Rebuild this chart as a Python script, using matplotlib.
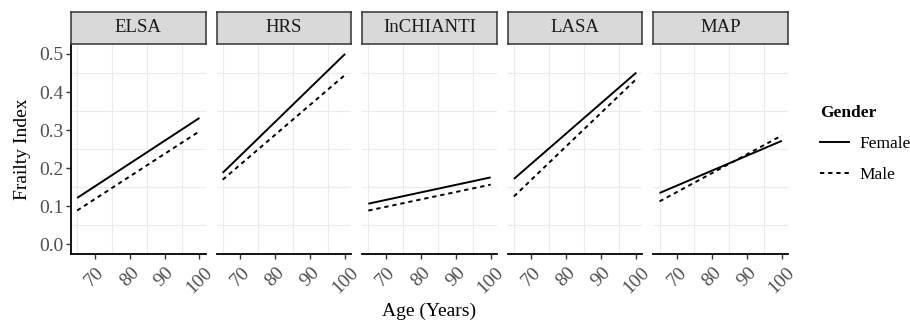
import matplotlib
matplotlib.use("Agg")
import matplotlib.pyplot as plt
from matplotlib.lines import Line2D
from matplotlib.ticker import FormatStrFormatter

plt.rcParams['font.family'] = ['Liberation Serif', 'DejaVu Serif']

cohorts = ['ELSA', 'HRS', 'InCHIANTI', 'LASA', 'MAP']
ages = [65, 100]
female_start = [0.122, 0.188, 0.107, 0.172, 0.135]
female_end = [0.332, 0.500, 0.176, 0.451, 0.272]
male_start = [0.089, 0.170, 0.089, 0.126, 0.113]
male_end = [0.297, 0.445, 0.157, 0.434, 0.286]
x_ticks = [70, 80, 90, 100]
y_ticks = [0.0, 0.1, 0.2, 0.3, 0.4, 0.5]

W, H = 910, 327
fig = plt.figure(figsize=(W / 100, H / 100), dpi=100)

left0 = 71
pw = 134.6
gap = 11
ptop = 44
pbot = 254
strip_top = 12

grid_c = '#EBEBEB'
tick_c = '#4D4D4D'

for i, name in enumerate(cohorts):
    x0 = left0 + i * (pw + gap)
    ax = fig.add_axes([x0 / W, 1 - pbot / H, pw / W, (pbot - ptop) / H])
    ax.set_xlim(63.25, 101.75)
    ax.set_ylim(-0.025, 0.526)
    ax.plot(ages, [female_start[i], female_end[i]], color='black', lw=1.4,
            solid_capstyle='butt')
    ax.plot(ages, [male_start[i], male_end[i]], color='black', lw=1.4,
            dashes=(2.2, 2.0))
    ax.set_xticks(x_ticks)
    ax.set_xticks([65, 75, 85, 95], minor=True)
    ax.set_yticks(y_ticks)
    ax.set_yticks([0.05, 0.15, 0.25, 0.35, 0.45], minor=True)
    ax.yaxis.set_major_formatter(FormatStrFormatter('%.1f'))
    ax.grid(which='minor', color=grid_c, lw=0.8)
    ax.grid(which='major', visible=False)
    ax.set_axisbelow(True)
    ax.tick_params(which='minor', length=0)
    ax.tick_params(which='major', length=3.5, width=1.0, color='#333333',
                   labelcolor=tick_c, labelsize=14)
    ax.tick_params(axis='x', pad=3.5)
    for lab in ax.get_xticklabels():
        lab.set_rotation(45)
        lab.set_ha('center')
        lab.set_va('top')
    for s in ['top', 'right']:
        ax.spines[s].set_visible(False)
    ax.spines['bottom'].set_linewidth(1.3)
    ax.spines['bottom'].set_color('black')
    if i == 0:
        ax.spines['left'].set_linewidth(1.3)
        ax.spines['left'].set_color('black')
        ax.tick_params(axis='y', pad=2)
        ax.set_ylabel('Frailty Index', fontsize=14, labelpad=6)
    else:
        ax.spines['left'].set_visible(False)
        ax.tick_params(axis='y', left=False, labelleft=False)

    sax = fig.add_axes([x0 / W, 1 - ptop / H, pw / W, (ptop - strip_top) / H])
    sax.set_facecolor('#D9D9D9')
    sax.set_xticks([])
    sax.set_yticks([])
    for s in sax.spines.values():
        s.set_color('#333333')
        s.set_linewidth(1.1)
    sax.text(0.5, 0.5, name, ha='center', va='center', fontsize=13.5,
             color='#1A1A1A', transform=sax.transAxes)

fig.text(429.5 / W, 1 - 311 / H, 'Age (Years)', ha='center', va='center',
         fontsize=14)

# legend
handles = [Line2D([0], [0], color='black', lw=1.4),
           Line2D([0], [0], color='black', lw=1.4, dashes=(2.2, 2.0))]
leg = fig.legend(handles, ['Female', 'Male'], title='Gender',
                 loc='upper left', bbox_to_anchor=(815.7 / W, 1 - 101 / H),
                 frameon=False, fontsize=12.5, title_fontsize=12.5,
                 borderpad=0.25, borderaxespad=0,
                 handlelength=1.65, handletextpad=0.6, labelspacing=0.85,
                 alignment='left')
leg.get_title().set_fontweight('bold')

fig.savefig('out.png', dpi=100)
